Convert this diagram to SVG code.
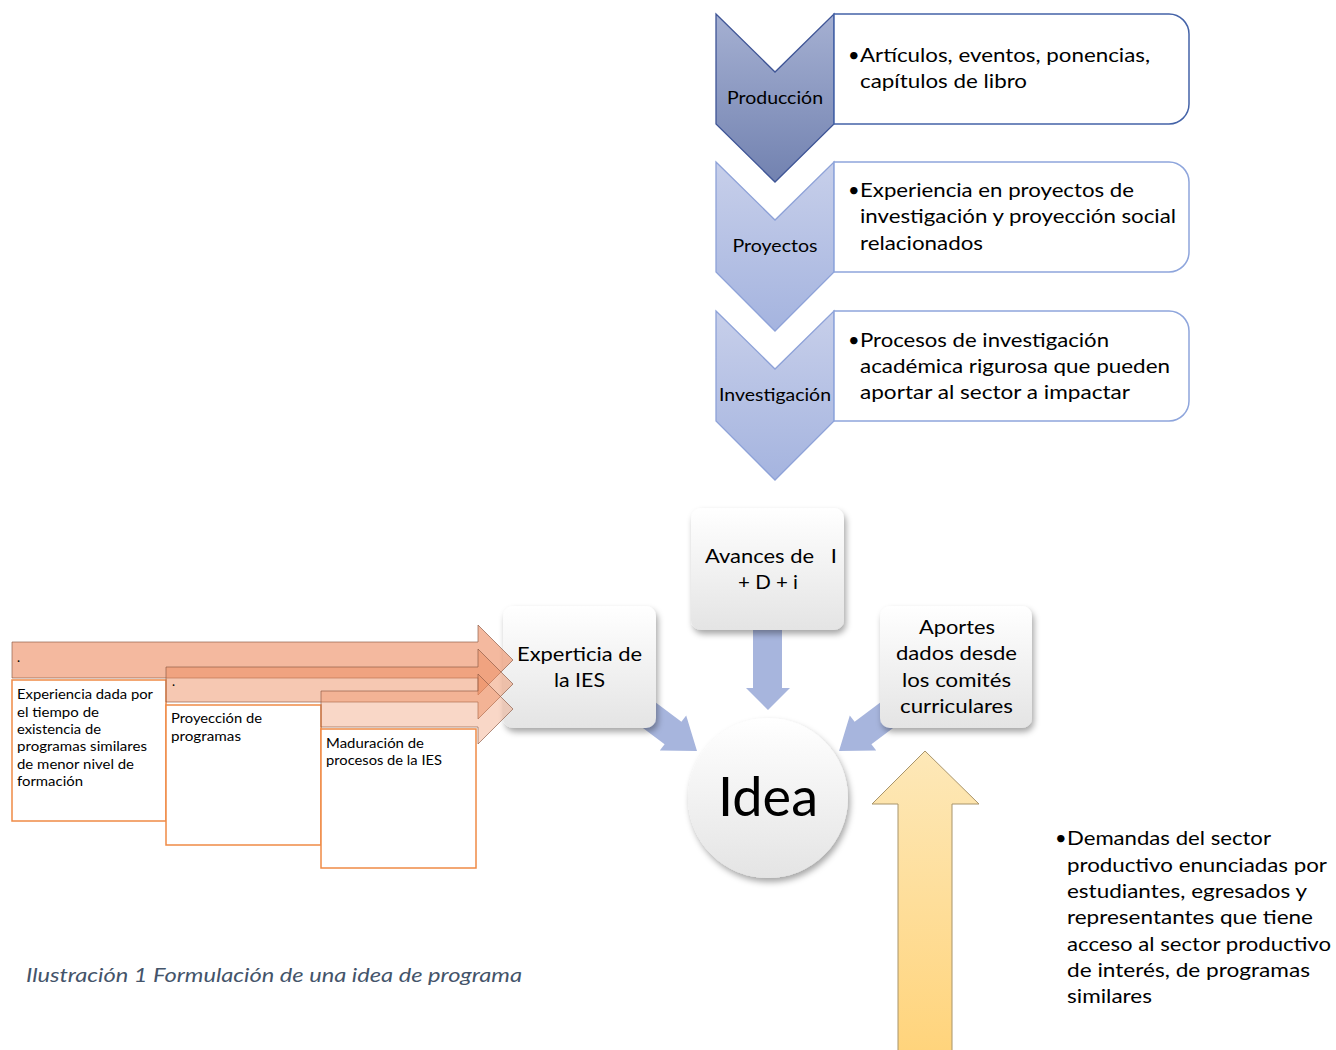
<svg xmlns="http://www.w3.org/2000/svg" width="1336" height="1050" viewBox="0 0 1336 1050">
<defs>
<linearGradient id="gDark" x1="0" y1="0" x2="0" y2="1"><stop offset="0" stop-color="#a5b0d2"/><stop offset="1" stop-color="#7282b0"/></linearGradient>
<linearGradient id="gLight" x1="0" y1="0" x2="0" y2="1"><stop offset="0" stop-color="#c7cfea"/><stop offset="1" stop-color="#a5b4df"/></linearGradient>
<linearGradient id="gBox" x1="0" y1="0" x2="0" y2="1"><stop offset="0" stop-color="#ffffff"/><stop offset="1" stop-color="#e4e4e4"/></linearGradient>
<linearGradient id="gYel" x1="0" y1="0" x2="0" y2="1"><stop offset="0" stop-color="#fde8b8"/><stop offset="1" stop-color="#ffd47c"/></linearGradient>
<filter id="sh" x="-20%" y="-20%" width="150%" height="150%"><feDropShadow dx="2" dy="4" stdDeviation="3" flood-color="#000" flood-opacity="0.35"/></filter>
<style>
text{font-family:Lato,"Liberation Sans",sans-serif;fill:#000;}
.bt{font-size:20px;}
.cl{font-size:18px;text-anchor:middle;}
.ct{font-size:20px;text-anchor:middle;}
.ol{font-size:13px;}
.chevD{fill:url(#gDark);stroke:#3f5596;stroke-width:1.3;}
.chevL{fill:url(#gLight);stroke:#8ea2d8;stroke-width:1.3;}
.boxD{fill:#fff;stroke:#4463a8;stroke-width:1.5;}
.boxL{fill:#fff;stroke:#8ea5dc;stroke-width:1.5;}
.cbox{fill:url(#gBox);filter:url(#sh);}
.blue{fill:#a7b5dd;}
.oarr{fill:#ed8b5f;stroke:#8b5842;stroke-width:1;stroke-opacity:0.65;}
.orect{fill:#fff;stroke:#ef8a46;stroke-width:1.5;}
</style>
</defs>
<rect width="1336" height="1050" fill="#fff"/>

<g id="produccion">
<path class="chevD" d="M716,14 L775,72 L834,14 L834,124 L775,182 L716,124 Z"/>
<text class="cl" x="775" y="104" textLength="96" lengthAdjust="spacingAndGlyphs">Producción</text>
<path class="boxD" d="M834,14 H1169 A20,20 0 0 1 1189,34 V104 A20,20 0 0 1 1169,124 H834 Z"/>
<text class="bt" x="848" y="62">•</text>
<text class="bt" x="860" y="62" textLength="290" lengthAdjust="spacingAndGlyphs">Artículos, eventos, ponencias,</text>
<text class="bt" x="860" y="88" textLength="167" lengthAdjust="spacingAndGlyphs">capítulos de libro</text>
</g>

<g id="proyectos">
<path class="chevL" d="M716,162 L775,220 L834,162 L834,272 L775,331 L716,272 Z"/>
<text class="cl" x="775" y="252" textLength="85" lengthAdjust="spacingAndGlyphs">Proyectos</text>
<path class="boxL" d="M834,162 H1169 A20,20 0 0 1 1189,182 V252 A20,20 0 0 1 1169,272 H834 Z"/>
<text class="bt" x="848" y="197">•</text>
<text class="bt" x="860" y="197" textLength="274" lengthAdjust="spacingAndGlyphs">Experiencia en proyectos de</text>
<text class="bt" x="860" y="223" textLength="316" lengthAdjust="spacingAndGlyphs">investigación y proyección social</text>
<text class="bt" x="860" y="250" textLength="123" lengthAdjust="spacingAndGlyphs">relacionados</text>
</g>

<g id="investigacion">
<path class="chevL" d="M716,311 L775,369 L834,311 L834,421 L775,480 L716,421 Z"/>
<text class="cl" x="775" y="401" textLength="112" lengthAdjust="spacingAndGlyphs">Investigación</text>
<path class="boxL" d="M834,311 H1169 A20,20 0 0 1 1189,331 V401 A20,20 0 0 1 1169,421 H834 Z"/>
<text class="bt" x="848" y="347">•</text>
<text class="bt" x="860" y="347" textLength="249" lengthAdjust="spacingAndGlyphs">Procesos de investigación</text>
<text class="bt" x="860" y="373" textLength="310" lengthAdjust="spacingAndGlyphs">académica rigurosa que pueden</text>
<text class="bt" x="860" y="399" textLength="270" lengthAdjust="spacingAndGlyphs">aportar al sector a impactar</text>
</g>

<g id="connectors">
<path class="blue" d="M753,620 H782 V688 H790 L768,710 L746,688 H753 Z"/>
<path class="blue" d="M624.6,714.2 L641.4,691.8 L681.4,721.8 L686.2,715.4 L697,751 L659.8,750.6 L664.6,744.2 Z"/>
<path class="blue" d="M911.4,714.2 L894.6,691.8 L854.6,721.8 L849.8,715.4 L839,751 L876.2,750.6 L871.4,744.2 Z"/>
<path d="M925,751 L979,804 L952,804 L952,1051 L898,1051 L898,804 L872,804 Z" fill="url(#gYel)" stroke="#a8946a" stroke-width="1"/>
</g>

<g id="avances">
<rect class="cbox" x="691" y="508" width="153" height="122" rx="10"/>
<text class="ct" x="771" y="563" textLength="132" lengthAdjust="spacingAndGlyphs" style="white-space:pre">Avances de   I</text>
<text class="ct" x="768" y="589" textLength="60" lengthAdjust="spacingAndGlyphs">+ D + i</text>
</g>

<g id="experticia">
<rect class="cbox" x="503" y="606" width="153" height="122" rx="10"/>
<text class="ct" x="579.5" y="661" textLength="125" lengthAdjust="spacingAndGlyphs">Experticia de</text>
<text class="ct" x="579.5" y="687" textLength="51" lengthAdjust="spacingAndGlyphs">la IES</text>
</g>

<g id="aportes">
<rect class="cbox" x="880" y="606" width="152" height="122" rx="10"/>
<text class="ct" x="957" y="634" textLength="76" lengthAdjust="spacingAndGlyphs">Aportes</text>
<text class="ct" x="956.5" y="660" textLength="121" lengthAdjust="spacingAndGlyphs">dados desde</text>
<text class="ct" x="956.5" y="687" textLength="109" lengthAdjust="spacingAndGlyphs">los comités</text>
<text class="ct" x="956.5" y="713" textLength="113" lengthAdjust="spacingAndGlyphs">curriculares</text>
</g>

<g id="idea">
<circle cx="768" cy="798" r="80" fill="url(#gBox)" filter="url(#sh)"/>
<text x="768" y="816" font-size="54" text-anchor="middle" textLength="100" lengthAdjust="spacingAndGlyphs">Idea</text>
</g>

<g id="demandas">
<text class="bt" x="1055" y="845">•</text>
<text class="bt" x="1067" y="845" textLength="204" lengthAdjust="spacingAndGlyphs">Demandas del sector</text>
<text class="bt" x="1067" y="872" textLength="260" lengthAdjust="spacingAndGlyphs">productivo enunciadas por</text>
<text class="bt" x="1067" y="898" textLength="240" lengthAdjust="spacingAndGlyphs">estudiantes, egresados y</text>
<text class="bt" x="1067" y="924" textLength="246" lengthAdjust="spacingAndGlyphs">representantes que tiene</text>
<text class="bt" x="1067" y="951" textLength="264" lengthAdjust="spacingAndGlyphs">acceso al sector productivo</text>
<text class="bt" x="1067" y="977" textLength="243" lengthAdjust="spacingAndGlyphs">de interés, de programas</text>
<text class="bt" x="1067" y="1003" textLength="85" lengthAdjust="spacingAndGlyphs">similares</text>
</g>

<g id="experiencia">
<rect class="orect" x="12" y="680" width="154" height="141"/>
<text class="ol" x="17" y="699" textLength="136" lengthAdjust="spacingAndGlyphs">Experiencia dada por</text>
<text class="ol" x="17" y="717" textLength="82" lengthAdjust="spacingAndGlyphs">el tiempo de</text>
<text class="ol" x="17" y="734" textLength="84" lengthAdjust="spacingAndGlyphs">existencia de</text>
<text class="ol" x="17" y="751" textLength="130" lengthAdjust="spacingAndGlyphs">programas similares</text>
<text class="ol" x="17" y="769" textLength="117" lengthAdjust="spacingAndGlyphs">de menor nivel de</text>
<text class="ol" x="17" y="786" textLength="66" lengthAdjust="spacingAndGlyphs">formación</text>
</g>

<g id="proyeccion">
<rect class="orect" x="166" y="705" width="155" height="140"/>
<text class="ol" x="171" y="723" textLength="91" lengthAdjust="spacingAndGlyphs">Proyección de</text>
<text class="ol" x="171" y="741" textLength="70" lengthAdjust="spacingAndGlyphs">programas</text>
</g>

<g id="maduracion">
<rect class="orect" x="321" y="729" width="155" height="139"/>
<text class="ol" x="326" y="748" textLength="98" lengthAdjust="spacingAndGlyphs">Maduración de</text>
<text class="ol" x="326" y="765" textLength="116" lengthAdjust="spacingAndGlyphs">procesos de la IES</text>
</g>

<g id="orange-arrows">
<path class="oarr" fill-opacity="0.6" d="M12,642 H478 V625 L513,660 L478,695 V678 H12 Z"/>
<text class="ol" x="17" y="662">.</text>
<path class="oarr" fill-opacity="0.48" d="M166,667 H478 V649 L513,684 L478,719 V702 H166 Z"/>
<text class="ol" x="172" y="686">.</text>
<path class="oarr" fill-opacity="0.35" d="M321,691 H478 V674 L513,709 L478,744 V727 H321 Z"/>
</g>

<text x="26" y="982" font-size="20" font-style="italic" fill="#44546a" style="fill:#44546a" textLength="496" lengthAdjust="spacingAndGlyphs">Ilustración 1 Formulación de una idea de programa</text>
</svg>
